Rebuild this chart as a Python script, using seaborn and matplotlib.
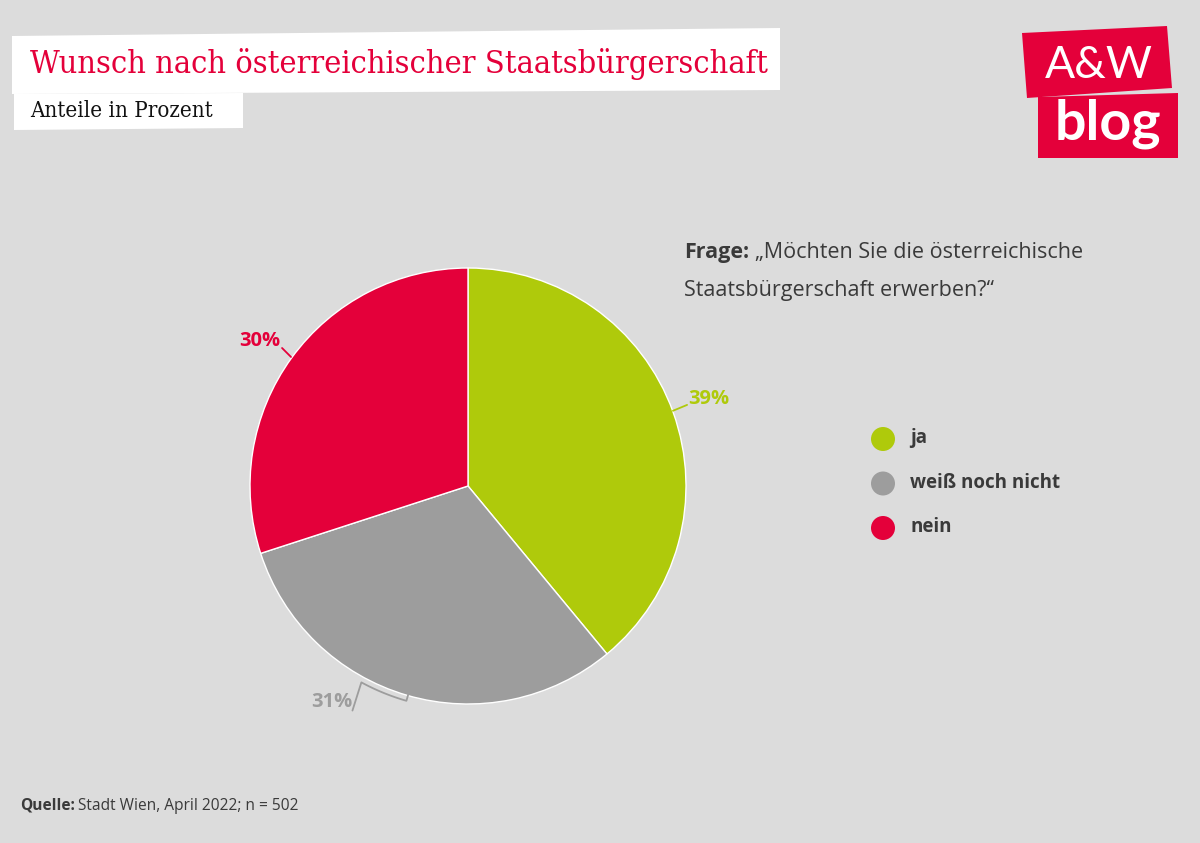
import numpy as np
import matplotlib.pyplot as plt
import seaborn as sns
from matplotlib.patches import Polygon, Ellipse

# data
categories = ['ja', 'weiß noch nicht', 'nein']
shares = [39, 31, 30]
colors = ['#afca0b', '#9d9d9d', '#e4003a']
pct_labels = ['39%', '31%', '30%']

sns.set_theme(style='white')
plt.rcParams['font.family'] = ['Open Sans', 'DejaVu Sans']

bg = '#dcdcdc'
dark = '#3a3a3a'
W, H = 1200, 843
fig = plt.figure(figsize=(12, 8.43), dpi=100, facecolor=bg)


def px(x, y):
    return x / W, 1 - y / H


def box(pts, col):
    fig.patches.append(Polygon([px(*p) for p in pts], closed=True, transform=fig.transFigure,
                               facecolor=col, edgecolor='none'))


def after(artist, s, gap=4, **kw):
    # text placed right after another text artist
    return plt.annotate(s, xy=(1, 0), xycoords=artist, xytext=(gap, 0),
                        textcoords='offset points', va='bottom', ha='left',
                        annotation_clip=False, **kw)


# title boxes (slightly tilted)
box([(12, 36), (780, 28), (780, 90), (12, 94)], 'white')
box([(14, 94), (243, 93), (243, 128), (14, 130)], 'white')
fig.text(*px(30, 64), 'Wunsch nach österreichischer Staatsbürgerschaft', fontsize=23.2,
         family='DejaVu Serif', fontstretch='condensed', color='#e4003a', va='center', ha='left')
fig.text(*px(30, 111), 'Anteile in Prozent', fontsize=16, family='DejaVu Serif',
         fontstretch='condensed', color='#111111', va='center', ha='left')

# logo
box([(1022, 33), (1167, 26), (1172, 88), (1027, 98)], '#e4003a')
box([(1038, 97), (1178, 93), (1178, 158), (1038, 158)], '#e4003a')
fig.text(*px(1099, 66), 'A&W', fontsize=32, color='white', ha='center', va='center',
         family='Lato')
fig.text(*px(1108, 124), 'blog', fontsize=40, color='white', ha='center', va='center',
         family='Lato', fontweight='bold')

# pie
cx, cy, r = 468, 486, 218
ax = fig.add_axes([(cx - r) / W, (H - cy - r) / H, 2 * r / W, 2 * r / H])
ax.set_facecolor(bg)
wedges, _ = ax.pie(shares, colors=colors, startangle=90, counterclock=False, radius=1,
                   wedgeprops=dict(edgecolor='white', linewidth=1))
ax.set_xlim(-1, 1)
ax.set_ylim(-1, 1)
ax.set_aspect('equal')
ax.axis('off')

# labels with short leader lines
lw = 1.3
ax.plot([0.94, 1.005], [0.345, 0.372], color=colors[0], lw=lw, clip_on=False)
ax.text(1.01, 0.40, pct_labels[0], color=colors[0], fontsize=14.5, fontweight='bold',
        ha='left', va='center')
ax.plot([-0.853, -0.812], [0.633, 0.592], color=colors[2], lw=lw, clip_on=False)
ax.text(-0.86, 0.665, pct_labels[2], color=colors[2], fontsize=14.5, fontweight='bold',
        ha='right', va='center')
# bracket for 31%
t = np.linspace(np.radians(-118.5), np.radians(-106), 30)
rb = 1.025
bx = rb * np.cos(t)
by = rb * np.sin(t)
ax.plot(np.r_[-0.53, bx, 0.995 * np.cos(t[-1])],
        np.r_[-1.03, by, 0.995 * np.sin(t[-1])],
        color='#9d9d9d', lw=lw, clip_on=False)
ax.text(-0.53, -0.99, pct_labels[1], color=colors[1], fontsize=14.5, fontweight='bold',
        ha='right', va='center')

# question text
fr = fig.text(*px(684, 258), 'Frage:', fontsize=15.5, fontweight='bold', color=dark,
              va='baseline')
after(fr, '„Möchten Sie die österreichische', fontsize=15.5, color=dark)
fig.text(*px(684, 296), 'Staatsbürgerschaft erwerben?“', fontsize=15.5, color=dark,
         va='baseline')

# legend
for i, (lab, col) in enumerate(zip(categories, colors)):
    y = 439 + i * 44.5
    fig.patches.append(Ellipse(px(883, y), 24 / W, 24 / H, transform=fig.transFigure,
                               facecolor=col, edgecolor='none'))
    fig.text(*px(910, y - 1), lab, fontsize=13.5, fontweight='bold', color=dark, va='center')

# source
q = fig.text(*px(20, 810), 'Quelle:', fontsize=11.2, fontweight='bold', color=dark,
             va='baseline')
after(q, 'Stadt Wien, April 2022; n = 502', gap=2, fontsize=11.2, color=dark)

fig.savefig('out.png', dpi=100, facecolor=bg)
